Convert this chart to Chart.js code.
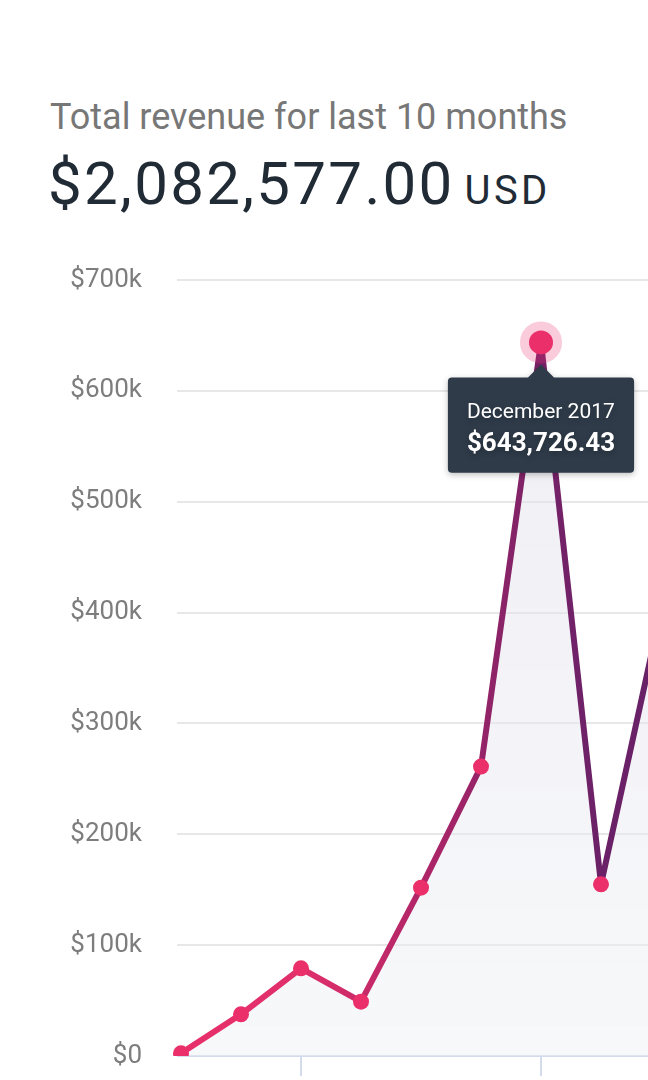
<!DOCTYPE html>
<html>
<head>
<meta charset="utf-8">
<script src="https://cdn.jsdelivr.net/npm/chart.js@4"></script>
<style>
    html, body { margin: 0; padding: 0; background: #fff; }
    body { width: 648px; height: 1080px; overflow: hidden; position: relative; font-family: Roboto, "Noto Sans", sans-serif; }
    .title { position: absolute; left: 50px; top: 99px; font-size: 36px; line-height: 36px; color: #777777; white-space: nowrap; }
    .total { position: absolute; left: 48px; top: 154px; font-size: 60px; line-height: 60px; color: #212b36; white-space: nowrap; letter-spacing: 2.3px; }
    .total span { font-size: 40px; letter-spacing: 3.4px; margin-left: 10px; }
    #revenueChart { position: absolute; left: 0; top: 240px; }
</style>
</head>
<body>
<div class="title">Total revenue for last 10 months</div>
<div class="total">$2,082,577.00<span>USD</span></div>
<canvas id="revenueChart" width="740" height="860"></canvas>
<script>
const months = ['June 2017', 'July 2017', 'August 2017', 'September 2017', 'October 2017', 'November 2017',
    'December 2017', 'January 2018', 'February 2018', 'March 2018'];
const revenue = [2412.35, 37604.18, 79120.56, 48975.40, 151830.72, 261045.90, 643726.43, 154890.27, 401815.64, 301155.55];
const yTicks = [0, 100000, 200000, 300000, 400000, 500000, 600000, 700000];
const activeMonth = 6; // December 2017 shown in the tooltip

const pink = '#ea2f6b';

const money = v => '$' + v.toLocaleString('en-US', { minimumFractionDigits: 2, maximumFractionDigits: 2 });

// line goes from pink on the left to purple on the right
function lineGradient(context) {
    const area = context.chart.chartArea;
    if (!area) return pink;
    const g = context.chart.ctx.createLinearGradient(area.left, 0, area.right, 0);
    g.addColorStop(0, '#e8306b');
    g.addColorStop(0.22, '#e02f6b');
    g.addColorStop(0.33, '#cb2b69');
    g.addColorStop(0.44, '#b12668');
    g.addColorStop(0.55, '#972468');
    g.addColorStop(0.665, '#782268');
    g.addColorStop(0.78, '#6b2167');
    g.addColorStop(1, '#652066');
    return g;
}

function fillGradient(context) {
    const area = context.chart.chartArea;
    if (!area) return 'rgba(230,230,240,0.4)';
    const g = context.chart.ctx.createLinearGradient(0, area.top, 0, area.bottom);
    g.addColorStop(0, 'rgba(222,220,232,0.5)');
    g.addColorStop(1, 'rgba(238,240,245,0.45)');
    return g;
}

const tooltipShadow = {
    id: 'tooltipShadow',
    beforeTooltipDraw(chart) {
        const ctx = chart.ctx;
        ctx.save();
        ctx.shadowColor = 'rgba(0,0,0,0.25)';
        ctx.shadowBlur = 6;
        ctx.shadowOffsetY = 2;
    },
    afterTooltipDraw(chart) {
        chart.ctx.restore();
    }
};

const ctx = document.getElementById('revenueChart').getContext('2d');
const revenueChart = new Chart(ctx, {
    type: 'line',
    data: {
        labels: months,
        datasets: [{
            label: 'Revenue',
            data: revenue,
            borderColor: lineGradient,
            backgroundColor: fillGradient,
            borderWidth: 6,
            borderJoinStyle: 'round',
            borderCapStyle: 'round',
            fill: 'origin',
            tension: 0,
            pointRadius: 8,
            pointBackgroundColor: pink,
            pointBorderWidth: 0,
            pointHoverRadius: 12,
            pointHoverBackgroundColor: pink,
            pointHoverBorderColor: 'rgba(234,47,107,0.25)',
            pointHoverBorderWidth: 18,
        }]
    },
    plugins: [tooltipShadow],
    options: {
        responsive: false,
        animation: false,
        events: [],
        layout: { padding: { top: 40, right: 19, bottom: 0, left: 0 } },
        plugins: {
            legend: { display: false },
            tooltip: {
                enabled: true,
                backgroundColor: '#2f3b49',
                xAlign: 'center',
                yAlign: 'top',
                caretSize: 13,
                caretPadding: 22,
                cornerRadius: 4,
                displayColors: false,
                padding: { top: 23, bottom: 13, left: 19, right: 19 },
                titleFont: { family: 'Roboto', size: 21, weight: 'normal' },
                titleColor: '#ffffff',
                titleMarginBottom: 3,
                bodyFont: { family: 'Roboto', size: 26, weight: 'bold' },
                bodyColor: '#ffffff',
                callbacks: {
                    title: items => months[items[0].dataIndex],
                    label: item => money(revenue[item.dataIndex])
                }
            }
        },
        scales: {
            x: {
                afterFit: scale => { scale.height = 44; },
                grid: {
                    drawOnChartArea: false,
                    drawTicks: true,
                    tickLength: 20,
                    lineWidth: 2,
                    color: c => (c.index % 4 === 2 ? '#d3dbec' : 'transparent')
                },
                border: { display: true, color: '#d3dbec', width: 2 },
                ticks: { display: false }
            },
            y: {
                min: 0,
                max: 700000,
                afterFit: scale => {
                    scale.width = 181;
                    scale.paddingTop = 0;
                    scale.paddingBottom = 0;
                },
                afterBuildTicks: scale => { scale.ticks = yTicks.map(v => ({ value: v })); },
                grid: {
                    tickLength: 4,
                    lineWidth: 2,
                    color: c => (c.index === 0 ? '#d3dbec' : '#e7e7e7')
                },
                border: { display: false },
                ticks: {
                    padding: 35,
                    color: '#7d7d7d',
                    font: { family: 'Roboto', size: 26 },
                    callback: v => (v === 0 ? '$0' : '$' + (v / 1000) + 'k')
                }
            }
        }
    }
});

const active = [{ datasetIndex: 0, index: activeMonth }];
revenueChart.setActiveElements(active);
revenueChart.tooltip.setActiveElements(active, { x: 0, y: 0 });
revenueChart.update('none');
</script>
</body>
</html>
